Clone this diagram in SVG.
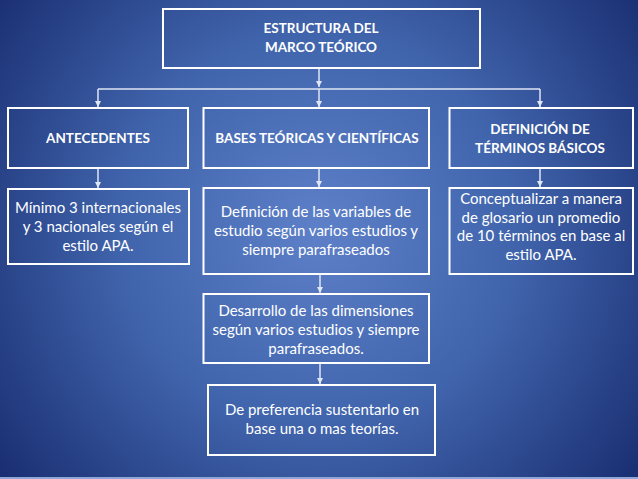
<svg xmlns="http://www.w3.org/2000/svg" width="638" height="479" viewBox="0 0 638 479">
<defs>
<radialGradient id="bg" cx="319" cy="230" r="430" gradientUnits="userSpaceOnUse">
<stop offset="0" stop-color="#5d80c9"/>
<stop offset="0.45" stop-color="#4165ad"/>
<stop offset="1" stop-color="#15276a"/>
</radialGradient>
<marker id="ah" viewBox="0 0 6 6" refX="6" refY="3" markerWidth="6" markerHeight="6" markerUnits="userSpaceOnUse" orient="auto">
<path d="M0,0 L6,3 L0,6 z" fill="#dfe6f4"/>
</marker>
</defs>
<style>
.box{fill:none;stroke:#ffffff;stroke-width:2}
.t{font-family:Lato,"Open Sans","Liberation Sans",sans-serif;font-size:15px;fill:#ffffff;text-anchor:middle}
.h{font-family:Lato,"Open Sans","Liberation Sans",sans-serif;font-size:13.5px;font-weight:bold;fill:#ffffff;text-anchor:middle}
.c{fill:none;stroke:#dfe6f4;stroke-width:1.5}
</style>
<rect width="638" height="479" fill="url(#bg)"/>
<rect x="0" y="477" width="638" height="2" fill="#8ea6d8"/>
<g id="connectors">
<path class="c" d="M319,69 V87" marker-end="url(#ah)"/>
<path class="c" d="M98,89 H540"/>
<path class="c" d="M98,89 V107" marker-end="url(#ah)"/>
<path class="c" d="M319,89 V107" marker-end="url(#ah)"/>
<path class="c" d="M540,89 V107" marker-end="url(#ah)"/>
<path class="c" d="M98,169 V188" marker-end="url(#ah)"/>
<path class="c" d="M319,169 V187" marker-end="url(#ah)"/>
<path class="c" d="M540,169 V187" marker-end="url(#ah)"/>
<path class="c" d="M320,275 V293" marker-end="url(#ah)"/>
<path class="c" d="M320,364 V384" marker-end="url(#ah)"/>
</g>
<g id="n-top">
<rect class="box" x="163" y="9" width="317" height="59"/>
<text class="h" x="321" y="33">ESTRUCTURA DEL</text>
<text class="h" x="321" y="52">MARCO TEÓRICO</text>
</g>
<g id="n-antecedentes">
<rect class="box" x="8" y="108" width="180" height="60"/>
<text class="h" x="98" y="143">ANTECEDENTES</text>
</g>
<g id="n-bases">
<rect class="box" x="203.5" y="108" width="225.5" height="60"/>
<text class="h" x="317" y="143">BASES TEÓRICAS Y CIENTÍFICAS</text>
</g>
<g id="n-definicion">
<rect class="box" x="449.5" y="108" width="183.5" height="60"/>
<text class="h" x="540" y="134">DEFINICIÓN DE</text>
<text class="h" x="540" y="153">TÉRMINOS BÁSICOS</text>
</g>
<g id="n-minimo">
<rect class="box" x="8" y="189" width="181" height="75"/>
<text class="t" x="98" y="213">Mínimo 3 internacionales</text>
<text class="t" x="98" y="232">y 3 nacionales según el</text>
<text class="t" x="98" y="251">estilo APA.</text>
</g>
<g id="n-variables">
<rect class="box" x="203.5" y="188" width="225.5" height="86"/>
<text class="t" x="316" y="217">Definición de las variables de</text>
<text class="t" x="316" y="236">estudio según varios estudios y</text>
<text class="t" x="316" y="255">siempre parafraseados</text>
</g>
<g id="n-conceptualizar">
<rect class="box" x="449.5" y="188" width="183.5" height="86"/>
<text class="t" x="541" y="204">Conceptualizar a manera</text>
<text class="t" x="541" y="223">de glosario un promedio</text>
<text class="t" x="541" y="241">de 10 términos en base al</text>
<text class="t" x="541" y="260">estilo APA.</text>
</g>
<g id="n-dimensiones">
<rect class="box" x="203.5" y="294" width="225.5" height="69"/>
<text class="t" x="316" y="316">Desarrollo de las dimensiones</text>
<text class="t" x="316" y="335">según varios estudios y siempre</text>
<text class="t" x="316" y="354">parafraseados.</text>
</g>
<g id="n-teorias">
<rect class="box" x="208" y="385" width="227" height="70"/>
<text class="t" x="322" y="415">De preferencia sustentarlo en</text>
<text class="t" x="322" y="434">base una o mas teorías.</text>
</g>
</svg>
